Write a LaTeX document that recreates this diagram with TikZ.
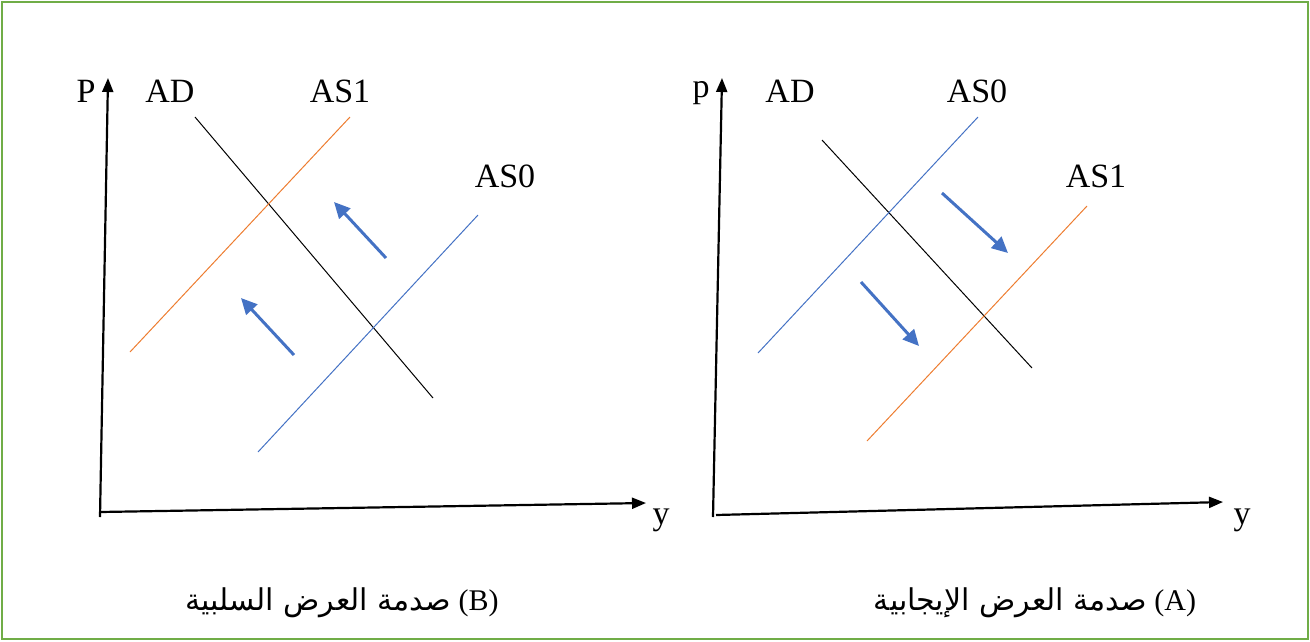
\documentclass[tikz,border=0pt]{standalone}
\usepackage{fontspec}
\setmainfont{Liberation Serif}
\newfontfamily\arabicfont[Script=Arabic]{DejaVu Sans}
\TeXXeTstate=1
\usetikzlibrary{arrows.meta}
\definecolor{frameg}{HTML}{70AD47}
\definecolor{asblue}{HTML}{4472C4}
\definecolor{asorange}{HTML}{ED7D31}
\tikzset{
  axis/.style={line width=2.2pt,-{Triangle[length=14pt,width=11pt]}},
  adline/.style={line width=1pt,black},
  blueline/.style={line width=1pt,asblue},
  orangeline/.style={line width=1pt,asorange},
  shift arrow/.style={line width=3pt,asblue,-{Triangle[length=16pt,width=15pt]}},
  lbl/.style={font=\fontsize{34}{40}\selectfont,inner sep=0pt},
  captext/.style={font=\fontsize{30}{36}\selectfont,inner sep=0pt}
}
\begin{document}
\begin{tikzpicture}[x=1pt,y=-1pt]
\useasboundingbox (0,0) rectangle (1310,641);
\draw[frameg,line width=2pt] (2,2) rectangle (1308,639);
% ---- left chart (B)
\coordinate (Lo) at (100,512);
\coordinate (Ly) at (108,78);
\coordinate (Lx) at (646,503);
\draw[axis] (100,517) -- (Ly);
\draw[axis] (Lo) -- (Lx);
\node[lbl] (LP) at (86,91) {P};
\node[lbl] (LAD) at (170,91) {AD};
\node[lbl] (LAS1) at (340,91) {AS1};
\node[lbl] (LAS0) at (505,176) {AS0};
\node[lbl] (Lylab) at (661,520) {y};
\coordinate (LADa) at (195,117);
\coordinate (LADb) at (433,398);
\draw[adline] (LADa) -- (LADb);
\coordinate (LS1a) at (130,352);
\coordinate (LS1b) at (350,117);
\draw[orangeline] (LS1a) -- (LS1b);
\coordinate (LS0a) at (258,452);
\coordinate (LS0b) at (478,215);
\draw[blueline] (LS0a) -- (LS0b);
\coordinate (La1s) at (386,258);
\coordinate (La1e) at (334,202);
\draw[shift arrow] (La1s) -- (La1e);
\coordinate (La2s) at (294,355);
\coordinate (La2e) at (241,298);
\draw[shift arrow] (La2s) -- (La2e);
\node[captext] (Lcap) at (342,603) {{\arabicfont\beginR صدمة العرض السلبية\endR}~(B)};
% ---- right chart (A)
\coordinate (Ro) at (716,515);
\coordinate (Ry) at (722,78);
\coordinate (Rx) at (1223,502);
\draw[axis] (713,517) -- (Ry);
\draw[axis] (Ro) -- (Rx);
\node[lbl] (Rp) at (701,93) {p};
\node[lbl] (RAD) at (790,91) {AD};
\node[lbl] (RAS0) at (977,91) {AS0};
\node[lbl] (RAS1) at (1096,176) {AS1};
\node[lbl] (Rylab) at (1242,520) {y};
\coordinate (RADa) at (822,140);
\coordinate (RADb) at (1032,368);
\draw[adline] (RADa) -- (RADb);
\coordinate (RS0a) at (758,353);
\coordinate (RS0b) at (978,117);
\draw[blueline] (RS0a) -- (RS0b);
\coordinate (RS1a) at (867,441);
\coordinate (RS1b) at (1087,206);
\draw[orangeline] (RS1a) -- (RS1b);
\coordinate (Ra1s) at (942,193);
\coordinate (Ra1e) at (1008,253);
\draw[shift arrow] (Ra1s) -- (Ra1e);
\coordinate (Ra2s) at (861,282);
\coordinate (Ra2e) at (919,346);
\draw[shift arrow] (Ra2s) -- (Ra2e);
\node[captext] (Rcap) at (1035,603) {{\arabicfont\beginR صدمة العرض الإيجابية\endR}~(A)};
\end{tikzpicture}
\end{document}
